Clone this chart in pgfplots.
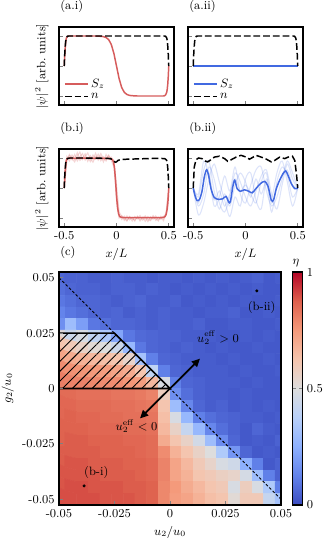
\documentclass[border=0pt]{standalone}
\usepackage{pgfplots}
\pgfplotsset{compat=1.18}
\usetikzlibrary{arrows.meta,patterns.meta}
\definecolor{szred}{RGB}{214,92,92}
\definecolor{szblue}{RGB}{65,105,225}
\newlength\px
\setlength\px{0.7424pt}

\pgfplotsset{
  lineax/.style={scale only axis, width=115\px, height=78\px,
    xmin=-0.55, xmax=0.55, ymin=-1.3, ymax=1.3,
    xtick={-0.5,0,0.5}, ytick={-1,0,1}, yticklabels={},
    tick align=inside, tick pos=left, major tick length=2.8pt,
    axis line style={line width=0.8pt}, tick style={line width=0.6pt},
    title style={at={(0,1)}, anchor=south west, inner sep=0pt, xshift=1\px, yshift=6\px},
    ylabel style={at={(axis description cs:-0.15,0.5)}, anchor=center},
    legend style={draw=none, fill=none, at={(0.03,0.01)}, anchor=south west,
      row sep=-1pt, inner sep=1pt},
    legend cell align=left},
  nn/.style={black, dash pattern=on 5pt off 2.2pt, line width=1.1pt},
  sz/.style={line width=1.1pt},
  faint/.style={line width=0.8pt, opacity=0.25},
}

\begin{document}
\fontsize{9}{11}\selectfont
\begin{tikzpicture}
\path[use as bounding box] (0,0) rectangle (330\px,-550\px);

% (a.i)
\begin{axis}[lineax, at={(59\px,-105\px)}, anchor=south west,
  xticklabels={}, title={(a.i)}, ylabel={$|\psi|^2$ [arb.\ units]}]
\addplot[sz, szred] coordinates {(-0.5,0) (-0.495,0.35) (-0.49,0.62) (-0.485,0.82)
  (-0.48,0.93) (-0.47,0.98) (-0.46,1.0) (-0.2,1.0) (-0.15,0.99) (-0.125,0.98)
  (-0.1,0.95) (-0.075,0.88) (-0.05,0.72) (-0.025,0.42) (0,0) (0.025,-0.42)
  (0.05,-0.72) (0.075,-0.88) (0.1,-0.95) (0.125,-0.98) (0.15,-0.99) (0.2,-1.0)
  (0.45,-1.0) (0.46,-0.99) (0.47,-0.96) (0.48,-0.88) (0.485,-0.78) (0.49,-0.62)
  (0.495,-0.36) (0.5,0)};
\addlegendentry{$S_z$}
\addplot[nn] coordinates {(-0.5,0) (-0.495,0.4) (-0.49,0.68) (-0.485,0.85) (-0.48,0.94)
  (-0.47,0.99) (-0.46,1.0) (0.46,1.0) (0.47,0.99) (0.48,0.94) (0.485,0.85)
  (0.49,0.68) (0.495,0.4) (0.5,0)};
\addlegendentry{$n$}
\end{axis}

% (a.ii)
\begin{axis}[lineax, at={(188\px,-105\px)}, anchor=south west,
  xticklabels={}, title={(a.ii)}]
\addplot[sz, szblue] coordinates {(-0.5,0) (0.5,0)};
\addlegendentry{$S_z$}
\addplot[nn] coordinates {(-0.5,0) (-0.495,0.4) (-0.49,0.68) (-0.485,0.85) (-0.48,0.94)
  (-0.47,0.99) (-0.46,1.0) (0.46,1.0) (0.47,0.99) (0.48,0.94) (0.485,0.85)
  (0.49,0.68) (0.495,0.4) (0.5,0)};
\addlegendentry{$n$}
\end{axis}

% (b.i)
\begin{axis}[lineax, at={(59\px,-227\px)}, anchor=south west,
  xticklabels={-0.5,0,0.5}, title={(b.i)}, xlabel={$x/L$},
  ylabel={$|\psi|^2$ [arb.\ units]}]
\addplot[faint, szred] coordinates {(-0.5,0) (-0.475,0.92) (-0.45,1.08) (-0.425,0.94)
  (-0.4,1.12) (-0.375,0.9) (-0.35,1.05) (-0.325,1.15) (-0.3,0.93) (-0.275,1.02)
  (-0.25,0.88) (-0.225,1.1) (-0.2,0.97) (-0.175,1.13) (-0.15,0.91) (-0.125,1.04)
  (-0.1,0.95) (-0.075,1.1) (-0.05,0.92) (-0.025,0.7) (0,-0.2) (0.025,-0.9)
  (0.05,-1.05) (0.075,-0.94) (0.1,-1.08) (0.125,-0.97) (0.15,-1.1) (0.175,-0.95)
  (0.2,-1.03) (0.225,-0.92) (0.25,-1.07) (0.275,-0.99) (0.3,-1.12) (0.325,-0.96)
  (0.35,-1.04) (0.375,-0.93) (0.4,-1.06) (0.425,-0.98) (0.45,-1.09) (0.475,-0.85) (0.5,0)};
\addplot[faint, szred] coordinates {(-0.5,0) (-0.475,1.05) (-0.45,0.9) (-0.425,1.1)
  (-0.4,0.96) (-0.375,1.18) (-0.35,0.92) (-0.325,1.0) (-0.3,1.14) (-0.275,0.89)
  (-0.25,1.08) (-0.225,0.95) (-0.2,1.16) (-0.175,0.93) (-0.15,1.06) (-0.125,0.87)
  (-0.1,1.12) (-0.075,0.96) (-0.05,1.03) (-0.025,0.85) (0,0.1) (0.025,-0.8)
  (0.05,-0.95) (0.075,-1.08) (0.1,-0.93) (0.125,-1.06) (0.15,-0.98) (0.175,-1.1)
  (0.2,-0.94) (0.225,-1.05) (0.25,-0.97) (0.275,-1.11) (0.3,-0.95) (0.325,-1.06)
  (0.35,-0.92) (0.375,-1.08) (0.4,-0.97) (0.425,-1.04) (0.45,-0.94) (0.475,-0.9) (0.5,0)};
\addplot[faint, szred] coordinates {(-0.5,0) (-0.475,0.97) (-0.45,1.12) (-0.425,0.98)
  (-0.4,0.87) (-0.375,1.06) (-0.35,1.2) (-0.325,0.95) (-0.3,1.05) (-0.275,1.17)
  (-0.25,0.97) (-0.225,0.86) (-0.2,1.05) (-0.175,1.0) (-0.15,1.15) (-0.125,0.98)
  (-0.1,0.9) (-0.075,1.07) (-0.05,0.98) (-0.025,0.92) (0,-0.4) (0.025,-1.0)
  (0.05,-0.92) (0.075,-1.02) (0.1,-1.1) (0.125,-0.95) (0.15,-1.03) (0.175,-1.07)
  (0.2,-0.96) (0.225,-1.1) (0.25,-1.0) (0.275,-0.93) (0.3,-1.05) (0.325,-1.09)
  (0.35,-0.97) (0.375,-1.02) (0.4,-1.1) (0.425,-0.94) (0.45,-1.03) (0.475,-0.8) (0.5,0)};
\addplot[sz, szred] coordinates {(-0.5,0) (-0.495,0.35) (-0.49,0.62) (-0.485,0.82)
  (-0.48,0.93) (-0.47,0.98) (-0.45,1.0) (-0.4,0.99) (-0.3,1.0) (-0.2,0.99) (-0.1,0.99)
  (-0.06,0.98) (-0.04,0.95) (-0.03,0.88) (-0.02,0.7) (-0.01,0.3) (0,-0.25)
  (0.01,-0.66) (0.02,-0.86) (0.03,-0.95) (0.05,-0.98) (0.1,-0.99) (0.2,-0.99)
  (0.3,-0.99) (0.4,-0.99) (0.45,-0.98) (0.465,-0.95) (0.475,-0.88) (0.485,-0.7)
  (0.49,-0.55) (0.495,-0.32) (0.5,0)};
\addplot[nn] coordinates {(-0.5,0) (-0.495,0.4) (-0.49,0.68) (-0.485,0.85) (-0.48,0.94)
  (-0.47,0.98) (-0.45,1.0) (-0.3,1.0) (-0.1,0.99) (-0.06,0.98) (-0.04,0.95)
  (-0.025,0.9) (-0.012,0.86) (0,0.87) (0.015,0.92) (0.04,0.95) (0.1,0.96) (0.2,0.97)
  (0.3,0.98) (0.4,0.99) (0.46,0.98) (0.47,0.96) (0.48,0.92) (0.485,0.85) (0.49,0.68)
  (0.495,0.4) (0.5,0)};
\end{axis}

% (b.ii)
\begin{axis}[lineax, at={(188\px,-227\px)}, anchor=south west,
  xticklabels={-0.5,0,0.5}, title={(b.ii)}, xlabel={$x/L$}]
\addplot[faint, szblue, smooth, opacity=0.18] coordinates {(-0.5,0) (-0.45,-0.6) (-0.4,-0.2) (-0.35,0.7)
  (-0.3,0.3) (-0.25,-0.5) (-0.2,-0.8) (-0.15,-0.3) (-0.1,0.5) (-0.05,0.2) (0,-0.3)
  (0.05,-0.6) (0.1,-0.1) (0.15,0.4) (0.2,0.6) (0.25,-0.2) (0.3,-0.7) (0.35,0.1)
  (0.4,0.8) (0.45,0.3) (0.5,0)};
\addplot[faint, szblue, smooth, opacity=0.18] coordinates {(-0.5,0) (-0.45,-0.3) (-0.4,0.6) (-0.35,0.9)
  (-0.3,-0.1) (-0.25,-0.7) (-0.2,-0.2) (-0.15,-0.6) (-0.1,0.1) (-0.05,0.5) (0,0.2)
  (0.05,-0.3) (0.1,0.3) (0.15,-0.2) (0.2,0.2) (0.25,-0.8) (0.3,0.2) (0.35,0.7)
  (0.4,0.4) (0.45,-0.3) (0.5,0)};
\addplot[faint, szblue, smooth, opacity=0.18] coordinates {(-0.5,0) (-0.45,-0.9) (-0.4,-0.5) (-0.35,0.3)
  (-0.3,0.8) (-0.25,0.2) (-0.2,-0.4) (-0.15,-0.95) (-0.1,-0.3) (-0.05,-0.6) (0,0.3)
  (0.05,0.5) (0.1,-0.4) (0.15,-0.7) (0.2,0.3) (0.25,-0.3) (0.3,0.5) (0.35,0.9)
  (0.4,0.2) (0.45,-0.6) (0.5,0)};
\addplot[faint, szblue, smooth, opacity=0.18] coordinates {(-0.5,0) (-0.45,-0.2) (-0.4,0.9) (-0.35,0.4)
  (-0.3,-0.6) (-0.25,-0.3) (-0.2,0.4) (-0.15,-0.1) (-0.1,0.7) (-0.05,-0.2) (0,-0.5)
  (0.05,0.1) (0.1,0.6) (0.15,0.7) (0.2,-0.1) (0.25,-0.6) (0.3,-0.3) (0.35,0.3)
  (0.4,0.9) (0.45,0.5) (0.5,0)};
\addplot[faint, szblue, smooth, opacity=0.18] coordinates {(-0.5,0) (-0.45,-0.5) (-0.4,0.2) (-0.35,0.5)
  (-0.3,-0.4) (-0.25,-0.1) (-0.2,-0.6) (-0.15,-0.2) (-0.1,0.3) (-0.05,-0.1) (0,0.1)
  (0.05,-0.2) (0.1,-0.5) (0.15,0.2) (0.2,0.5) (0.25,-0.5) (0.3,0.1) (0.35,0.4)
  (0.4,0.6) (0.45,0.1) (0.5,0)};
\addplot[sz, szblue, smooth] coordinates {(-0.5,0) (-0.484,-0.24) (-0.465,-0.41)
  (-0.442,-0.39) (-0.417,-0.13) (-0.394,0.37) (-0.372,0.61) (-0.353,0.42) (-0.33,-0.02)
  (-0.298,-0.32) (-0.25,-0.38) (-0.218,-0.36) (-0.186,-0.28) (-0.16,-0.47)
  (-0.144,-0.45) (-0.122,0.03) (-0.103,0.26) (-0.08,-0.02) (-0.048,-0.11)
  (-0.01,-0.06) (0.032,-0.11) (0.064,-0.16) (0.1,-0.02) (0.141,0.14) (0.183,0.22)
  (0.215,0.06) (0.247,-0.41) (0.269,-0.39) (0.295,-0.02) (0.327,0.26) (0.359,0.48)
  (0.385,0.57) (0.407,0.42) (0.439,0.14) (0.471,-0.02) (0.5,0)};
\addplot[nn] coordinates {(-0.5,0) (-0.49,0.7) (-0.474,0.94) (-0.449,1.0) (-0.417,0.98)
  (-0.385,0.9) (-0.362,0.87) (-0.34,0.92) (-0.298,1.03) (-0.25,1.06) (-0.2,0.98)
  (-0.17,0.89) (-0.138,0.94) (-0.09,1.03) (-0.042,1.09) (0.006,1.03) (0.038,0.96)
  (0.064,1.01) (0.1,1.09) (0.15,1.03) (0.2,0.96) (0.247,0.87) (0.279,0.92)
  (0.327,1.03) (0.375,0.98) (0.407,1.03) (0.449,1.06) (0.471,0.92) (0.487,0.48) (0.5,0)};
\end{axis}

% (c)
\begin{axis}[scale only axis, width=222\px, height=233\px,
  at={(59\px,-505\px)}, anchor=south west,
  xmin=-0.05, xmax=0.05, ymin=-0.05263, ymax=0.05263,
  scaled ticks=false, clip mode=individual,
  xtick={-0.05,-0.025,0,0.025,0.05}, xticklabels={-0.05,-0.025,0,0.025,0.05},
  ytick={-0.05,-0.025,0,0.025,0.05}, yticklabels={-0.05,-0.025,0,0.025,0.05},
  xlabel={$u_2/u_0$}, ylabel={$g_2/u_0$},
  title={(c)}, title style={at={(0,1)}, anchor=south west, inner sep=0pt, xshift=1\px, yshift=5\px},
  tick align=inside, tick pos=left, major tick length=2.8pt,
  axis line style={line width=0.8pt}, tick style={line width=0.6pt},
  axis on top,
  colormap={cw}{rgb255=(59,76,192) rgb255=(98,130,234) rgb255=(141,176,254)
    rgb255=(184,208,249) rgb255=(221,221,221) rgb255=(245,196,173)
    rgb255=(244,154,123) rgb255=(222,96,77) rgb255=(180,4,38)},
  point meta min=0, point meta max=1,
  colorbar,
  colorbar style={at={([xshift=11\px]parent axis.north east)}, anchor=north west,
    width=10\px, ytick={0,0.5,1}, yticklabels={0,0.5,1}, scaled ticks=false,
    tick align=inside, major tick length=2.8pt,
    axis line style={line width=0.8pt}},
]
\addplot[matrix plot*, mesh/cols=20, point meta=explicit]
  table[row sep=\\, header=false, meta index=0,
    x expr={-0.05+mod(\coordindex,20)*0.0052632},
    y expr={0.05-floor(\coordindex/20)*0.0052632}] {
0.06\\0.05\\0.05\\0.04\\0.04\\0.05\\0.04\\0.04\\0.03\\0.04\\0.04\\0.03\\0.04\\0.03\\0.04\\0.03\\0.04\\0.05\\0.03\\0.04\\
0.08\\0.06\\0.05\\0.05\\0.04\\0.05\\0.05\\0.04\\0.05\\0.04\\0.03\\0.04\\0.03\\0.04\\0.03\\0.04\\0.03\\0.04\\0.03\\0.03\\
0.10\\0.08\\0.06\\0.06\\0.05\\0.04\\0.05\\0.06\\0.04\\0.04\\0.05\\0.03\\0.04\\0.03\\0.04\\0.03\\0.04\\0.03\\0.03\\0.04\\
0.13\\0.10\\0.08\\0.06\\0.05\\0.06\\0.04\\0.05\\0.04\\0.05\\0.04\\0.04\\0.03\\0.04\\0.04\\0.05\\0.03\\0.03\\0.04\\0.03\\
0.16\\0.30\\0.20\\0.10\\0.08\\0.06\\0.06\\0.05\\0.04\\0.05\\0.04\\0.04\\0.05\\0.03\\0.03\\0.04\\0.04\\0.03\\0.03\\0.04\\
0.52\\0.44\\0.48\\0.40\\0.34\\0.22\\0.10\\0.07\\0.06\\0.05\\0.05\\0.04\\0.04\\0.04\\0.03\\0.03\\0.04\\0.03\\0.04\\0.03\\
0.62\\0.60\\0.56\\0.52\\0.50\\0.44\\0.28\\0.10\\0.06\\0.05\\0.04\\0.05\\0.04\\0.03\\0.04\\0.03\\0.03\\0.04\\0.03\\0.03\\
0.72\\0.70\\0.68\\0.66\\0.64\\0.62\\0.55\\0.32\\0.12\\0.06\\0.05\\0.04\\0.04\\0.04\\0.03\\0.04\\0.03\\0.03\\0.04\\0.03\\
0.78\\0.77\\0.76\\0.75\\0.74\\0.72\\0.70\\0.62\\0.40\\0.12\\0.06\\0.05\\0.04\\0.04\\0.04\\0.03\\0.04\\0.03\\0.03\\0.04\\
0.81\\0.80\\0.80\\0.79\\0.78\\0.78\\0.76\\0.74\\0.66\\0.48\\0.12\\0.06\\0.05\\0.04\\0.04\\0.04\\0.03\\0.04\\0.03\\0.03\\
0.85\\0.85\\0.84\\0.84\\0.84\\0.83\\0.83\\0.82\\0.80\\0.58\\0.16\\0.08\\0.05\\0.04\\0.04\\0.03\\0.04\\0.03\\0.03\\0.03\\
0.86\\0.86\\0.85\\0.85\\0.85\\0.84\\0.84\\0.83\\0.82\\0.62\\0.30\\0.14\\0.06\\0.04\\0.05\\0.03\\0.04\\0.03\\0.04\\0.03\\
0.86\\0.87\\0.86\\0.86\\0.85\\0.85\\0.84\\0.84\\0.83\\0.64\\0.48\\0.28\\0.12\\0.08\\0.06\\0.05\\0.04\\0.04\\0.03\\0.04\\
0.87\\0.87\\0.87\\0.86\\0.86\\0.86\\0.85\\0.85\\0.84\\0.66\\0.56\\0.42\\0.28\\0.14\\0.08\\0.05\\0.03\\0.06\\0.04\\0.03\\
0.87\\0.88\\0.88\\0.87\\0.87\\0.87\\0.86\\0.86\\0.85\\0.70\\0.62\\0.56\\0.46\\0.30\\0.15\\0.06\\0.03\\0.04\\0.03\\0.05\\
0.88\\0.88\\0.88\\0.88\\0.87\\0.87\\0.87\\0.86\\0.85\\0.78\\0.68\\0.62\\0.56\\0.50\\0.35\\0.18\\0.06\\0.03\\0.04\\0.03\\
0.88\\0.89\\0.89\\0.88\\0.88\\0.88\\0.87\\0.87\\0.86\\0.80\\0.72\\0.66\\0.60\\0.55\\0.48\\0.45\\0.25\\0.12\\0.03\\0.05\\
0.89\\0.89\\0.89\\0.89\\0.88\\0.88\\0.88\\0.87\\0.86\\0.80\\0.72\\0.68\\0.62\\0.60\\0.57\\0.55\\0.47\\0.30\\0.12\\0.05\\
0.89\\0.90\\0.90\\0.89\\0.89\\0.89\\0.88\\0.88\\0.87\\0.79\\0.75\\0.70\\0.66\\0.62\\0.60\\0.48\\0.58\\0.48\\0.35\\0.12\\
0.90\\0.90\\0.90\\0.90\\0.89\\0.89\\0.89\\0.88\\0.87\\0.79\\0.74\\0.72\\0.68\\0.64\\0.62\\0.52\\0.60\\0.60\\0.42\\0.32\\
};
\addplot[black, dash pattern=on 2pt off 1.5pt, line width=0.7pt]
  coordinates {(-0.05,0.05) (0.05,-0.05)};
\addplot[draw=black, line width=1.2pt,
  pattern={Lines[angle=45,distance=5.2pt,line width=0.7pt]}]
  coordinates {(-0.05,0.025) (-0.025,0.025) (0,0) (-0.05,0)} -- cycle;
\addplot[black, line width=1.3pt,
  {Triangle[length=6pt,width=5.5pt]}-{Triangle[length=6pt,width=5.5pt]}]
  coordinates {(-0.0135,-0.0135) (0.0135,0.0135)};
\addplot[only marks, mark=*, mark size=0.9pt, black]
  coordinates {(0.0391,0.0441) (-0.0387,-0.044)};
\node at (axis cs:0.0216,0.0229) {$u_2^{\mathrm{eff}}>0$};
\node at (axis cs:-0.0151,-0.017) {$u_2^{\mathrm{eff}}<0$};
\node at (axis cs:0.0413,0.0364) {(b-ii)};
\node at (axis cs:-0.0332,-0.0378) {(b-i)};
\node[anchor=south, inner sep=0pt] at ([xshift=15\px, yshift=5\px]rel axis cs:1,1) {$\eta$};
\end{axis}
\end{tikzpicture}
\end{document}
